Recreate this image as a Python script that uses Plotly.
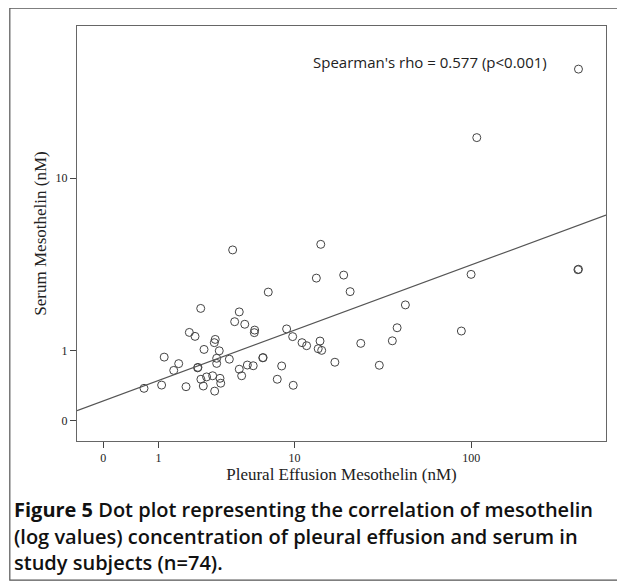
import numpy as np
import plotly.graph_objects as go

# values, in log10(value + 1) units as drawn on the axes
pleural_log = [0.222, 0.318, 0.332, 0.384, 0.411, 0.451, 0.469, 0.500, 0.531, 0.514,
               0.516, 0.532, 0.545, 0.549, 0.563, 0.596, 0.607, 0.610, 0.605, 0.632,
               0.618, 0.618, 0.636, 0.640, 0.687, 0.705, 0.716, 0.741, 0.771, 0.741,
               0.754, 0.785, 0.817, 0.825, 0.823, 0.869, 0.871, 0.899, 0.948, 0.972,
               0.999, 1.032, 1.035, 1.083, 1.108, 1.161, 1.181, 1.171, 1.190, 1.262,
               1.310, 1.345, 1.403, 2.589, 2.035, 1.185, 2.004, 2.589, 2.586, 1.646,
               1.504, 1.575, 1.601, 1.951]
serum_log = [0.139, 0.153, 0.273, 0.216, 0.245, 0.146, 0.379, 0.362, 0.482, 0.227,
             0.229, 0.178, 0.149, 0.306, 0.188, 0.193, 0.127, 0.349, 0.335, 0.300,
             0.268, 0.246, 0.182, 0.161, 0.264, 0.733, 0.425, 0.467, 0.414, 0.221,
             0.193, 0.239, 0.236, 0.389, 0.378, 0.270, 0.271, 0.552, 0.178, 0.235,
             0.394, 0.361, 0.152, 0.335, 0.322, 0.612, 0.342, 0.309, 0.302, 0.251,
             0.625, 0.554, 0.332, 1.509, 1.215, 0.757, 0.628, 0.650, 0.648, 0.497,
             0.238, 0.343, 0.399, 0.385]

x_ticks = [0, 1, 10, 100]
y_ticks = [0, 1, 10]
x_range = [-0.143, 2.739]
y_range = [-0.087, 1.694]

serif = "Liberation Serif"
sans = "Open Sans"

slope, intercept = np.polyfit(pleural_log, serum_log, 1)
line_x = np.array(x_range)

fig = go.Figure()
fig.add_trace(go.Scatter(
    x=pleural_log, y=serum_log, mode="markers",
    marker=dict(symbol="circle-open", size=8, color="#444", line=dict(width=1)),
    showlegend=False))
fig.add_trace(go.Scatter(
    x=line_x, y=slope * line_x + intercept, mode="lines",
    line=dict(color="#555", width=1.2), showlegend=False))

fig.update_xaxes(
    range=x_range, tickvals=[np.log10(t + 1) for t in x_ticks], ticktext=[str(t) for t in x_ticks],
    ticks="outside", ticklen=6, tickcolor="#444", showgrid=False, zeroline=False,
    showline=True, linecolor="#666", mirror=True,
    tickfont=dict(family=serif, size=12, color="#222"),
    title=dict(text="Pleural Effusion Mesothelin (nM)", font=dict(family=serif, size=17, color="#222"), standoff=0))
fig.update_yaxes(
    range=y_range, tickvals=[np.log10(t + 1) for t in y_ticks], ticktext=[str(t) for t in y_ticks],
    ticks="outside", ticklen=6, tickcolor="#444", showgrid=False, zeroline=False,
    showline=True, linecolor="#666", mirror=True,
    tickfont=dict(family=serif, size=12, color="#222"),
    title=dict(text="Serum Mesothelin (nM)", font=dict(family=serif, size=17, color="#222"), standoff=4))

caption = [
    "<b>Figure 5</b> Dot plot representing the correlation of mesothelin",
    "(log values) concentration of pleural effusion and serum in",
    "study subjects (n=74).",
]
annotations = [dict(text="Spearman's rho = 0.577 (p<0.001)", xref="paper", yref="paper",
                    x=0.667, xanchor="center", y=0.942, showarrow=False,
                    font=dict(family=sans, size=15, color="#222"))]
for i, line in enumerate(caption):
    annotations.append(dict(text=line, xref="paper", yref="paper", x=-0.123, xanchor="left",
                            y=-0.166 - i * 0.063, yanchor="middle", showarrow=False,
                            font=dict(family=sans, size=20, color="#111", weight=600)))

fig.update_layout(
    width=617, height=575, margin=dict(l=69, r=19, t=18, b=142),
    paper_bgcolor="white", plot_bgcolor="white",
    annotations=annotations,
    shapes=[dict(type="rect", xref="paper", yref="paper", x0=-0.127, x1=1.028, y0=-0.335, y1=1.043,
                 line=dict(color="#555", width=1.2))],
)
fig.write_html("out.html")
